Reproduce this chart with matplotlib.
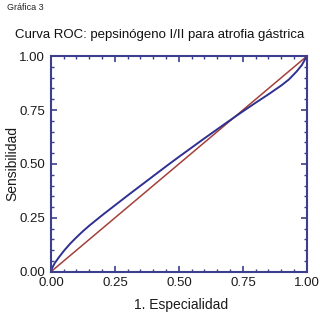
import matplotlib
matplotlib.use("Agg")
import matplotlib.pyplot as plt
from matplotlib.ticker import MultipleLocator

# ROC curve
fpr = [0, 0.005, 0.015, 0.03, 0.05, 0.075, 0.1, 0.125, 0.15, 0.175, 0.2, 0.25, 0.3,
       0.35, 0.4, 0.45, 0.5, 0.55, 0.6, 0.65, 0.7, 0.75, 0.8, 0.85, 0.9,
       0.93, 0.96, 0.98, 1.0]
tpr = [0, 0.018, 0.040, 0.065, 0.096, 0.130, 0.160, 0.188, 0.214, 0.238, 0.262, 0.308, 0.354,
       0.399, 0.444, 0.489, 0.533, 0.576, 0.619, 0.661, 0.703, 0.744, 0.784, 0.823, 0.864,
       0.892, 0.929, 0.958, 1.0]
diag = [0, 1]

navy = "#3b3f8e"
plt.rcParams['font.family'] = ['Liberation Sans', 'DejaVu Sans']

fig = plt.figure(figsize=(3.2, 3.19), dpi=100)
ax = fig.add_axes([0.159, 0.148, 0.80, 0.676])

ax.plot(diag, diag, color="#a3403a", lw=1.1)
ax.plot(fpr, tpr, color="#2e3190", lw=1.4)

ax.set_xlim(0, 1)
ax.set_ylim(0, 1)
ax.xaxis.set_major_locator(MultipleLocator(0.25))
ax.yaxis.set_major_locator(MultipleLocator(0.25))
ax.xaxis.set_minor_locator(MultipleLocator(0.05))
ax.yaxis.set_minor_locator(MultipleLocator(0.05))
ax.xaxis.set_major_formatter(lambda v, p: "%.2f" % v)
ax.yaxis.set_major_formatter(lambda v, p: "%.2f" % v)
ax.tick_params(which="both", direction="in", top=True, right=True, color=navy,
               labelsize=9.5, labelcolor="#1a1a1a")
ax.tick_params(which="major", length=4, width=1.2, pad=4)
ax.tick_params(which="minor", length=2.5, width=1.0)
for s in ax.spines.values():
    s.set_color(navy)
    s.set_linewidth(1.5)

ax.set_xlabel("1. Especialidad", fontsize=10, color="#1a1a1a")
ax.set_ylabel("Sensibilidad", fontsize=10, color="#1a1a1a")
ax.xaxis.set_label_coords(0.51, -0.12)
ax.yaxis.set_label_coords(-0.125, 0.5)

fig.text(0.5, 0.89, "Curva ROC: pepsinógeno I/II para atrofia gástrica",
         ha="center", va="center", fontsize=9.5, color="#111111")
fig.text(0.022, 0.975, "Gráfica 3", ha="left", va="center", fontsize=6.5,
         color="#222222", family=['Liberation Sans Narrow', 'Liberation Sans'])

fig.savefig("out.png", dpi=100)
